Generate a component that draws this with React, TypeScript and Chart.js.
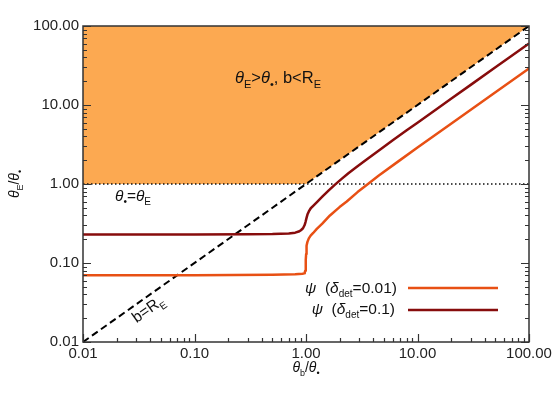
import React, { useEffect, useRef } from "react";
import { Chart, registerables } from "chart.js";

Chart.register(...registerables);

// ---- data ----
const xTickValues = [0.01, 0.1, 1, 10, 100];
const xTickLabels = ["0.01", "0.10", "1.00", "10.00", "100.00"];
const yTickValues = [0.01, 0.1, 1, 10, 100];
const yTickLabels = ["0.01", "0.10", "1.00", "10.00", "100.00"];

// region theta_E > theta_*, b < R_E (filled up to top)
const regionX = [0.01, 1, 100];
const regionY = [1, 1, 100];

// b = R_E line
const diagX = [0.01, 100];
const diagY = [0.01, 100];

// theta_* = theta_E line
const unityX = [0.01, 100];
const unityY = [1, 1];

// psi (delta_det = 0.01)
const psi001X = [0.01, 0.1, 0.5, 0.8, 0.93, 0.96, 0.975, 0.985, 0.992, 0.998, 1.003, 1.008, 1.015, 1.03, 1.06, 1.1, 1.16, 1.25, 1.4, 1.64, 2.0, 2.32, 2.9, 3.5, 4.5, 6.68, 10, 20, 50, 100];
const psi001Y = [0.07, 0.07, 0.071, 0.072, 0.073, 0.074, 0.076, 0.08, 0.09, 0.11, 0.13, 0.15, 0.165, 0.185, 0.205, 0.222, 0.24, 0.27, 0.315, 0.4, 0.51, 0.6, 0.79, 0.97, 1.28, 1.92, 2.89, 5.78, 14.49, 29];

// psi (delta_det = 0.1)
const psi01X = [0.01, 0.1, 0.3, 0.5, 0.7, 0.8, 0.86, 0.9, 0.94, 0.97, 0.99, 1.01, 1.03, 1.06, 1.1, 1.16, 1.26, 1.4, 1.6, 1.83, 2.1, 2.4, 2.84, 3.4, 4.6, 6, 8, 10, 15, 20, 30, 50, 70, 100];
const psi01Y = [0.23, 0.23, 0.231, 0.233, 0.237, 0.242, 0.25, 0.26, 0.275, 0.3, 0.33, 0.37, 0.41, 0.45, 0.49, 0.53, 0.595, 0.69, 0.83, 0.99, 1.17, 1.37, 1.64, 1.98, 2.72, 3.58, 4.8, 5.97, 8.97, 11.97, 17.98, 29.98, 41.98, 60];

const FILL = "rgb(252,169,81)";
const C001 = "rgb(232,80,20)";
const C01 = "rgb(135,12,12)";
const INK = "#222";
const FAMILY = "'Liberation Sans', 'DejaVu Sans', sans-serif";

const pts = (xs: number[], ys: number[]) => xs.map((x, i) => ({ x, y: ys[i] }));

type Part = { t: string; sub?: boolean; it?: boolean };

function drawRich(ctx: CanvasRenderingContext2D, parts: Part[], x: number, y: number, size: number, align: "left" | "center" | "right") {
  const fontOf = (p: Part) => {
    const s = p.sub ? Math.round(size * 0.66) : size;
    return `${p.it ? "italic " : ""}${s}px ${FAMILY}`;
  };
  const widths = parts.map((p) => {
    ctx.font = fontOf(p);
    return ctx.measureText(p.t).width;
  });
  const total = widths.reduce((a, b) => a + b, 0);
  let cx = align === "left" ? x : align === "center" ? x - total / 2 : x - total;
  ctx.textBaseline = "alphabetic";
  ctx.textAlign = "left";
  parts.forEach((p, i) => {
    ctx.font = fontOf(p);
    ctx.fillText(p.t, cx, y + (p.sub ? size * 0.28 : 0));
    cx += widths[i];
  });
}

const decorPlugin = {
  id: "decor",
  afterDatasetsDraw(chart: any) {
    const ctx: CanvasRenderingContext2D = chart.ctx;
    const { left, right, top, bottom } = chart.chartArea;
    const xs = chart.scales.x;
    const ys = chart.scales.y;
    ctx.save();
    // frame
    ctx.strokeStyle = "#333";
    ctx.lineWidth = 1.5;
    ctx.strokeRect(left, top, right - left, bottom - top);
    // ticks
    ctx.lineWidth = 1.2;
    ctx.beginPath();
    for (let e = -2; e <= 2; e++) {
      for (let k = 1; k <= 9; k++) {
        const v = k * Math.pow(10, e);
        if (v > 100.0001) continue;
        const len = k === 1 ? 8 : 4;
        const px = Math.round(xs.getPixelForValue(v)) + 0.5;
        ctx.moveTo(px, bottom);
        ctx.lineTo(px, bottom - len);
        const py = Math.round(ys.getPixelForValue(v)) + 0.5;
        ctx.moveTo(left, py);
        ctx.lineTo(left + len, py);
        ctx.moveTo(right, py);
        ctx.lineTo(right - len, py);
      }
    }
    ctx.stroke();

    ctx.fillStyle = "#111";
    // region label
    drawRich(ctx, [
      { t: "θ", it: true }, { t: "E", sub: true }, { t: ">" }, { t: "θ", it: true }, { t: "•", sub: true }, { t: ", b<R" }, { t: "E", sub: true },
    ], 278, 83, 16.5, "center");
    // theta_* = theta_E
    drawRich(ctx, [
      { t: "θ", it: true }, { t: "•", sub: true }, { t: "=" }, { t: "θ", it: true }, { t: "E", sub: true },
    ], 115, 201, 15.5, "left");
    // b = R_E rotated along the diagonal
    const ang = Math.atan2(ys.getPixelForValue(0.01) - ys.getPixelForValue(100), xs.getPixelForValue(100) - xs.getPixelForValue(0.01));
    ctx.save();
    ctx.translate(151, 313);
    ctx.rotate(-ang);
    drawRich(ctx, [{ t: "b=R" }, { t: "E", sub: true }], 0, 0, 15.5, "center");
    ctx.restore();

    // legend
    drawRich(ctx, [
      { t: "ψ", it: true }, { t: "  (" }, { t: "δ", it: true }, { t: "det", sub: true }, { t: "=0.01)" },
    ], 397, 293, 15.5, "right");
    drawRich(ctx, [
      { t: "ψ", it: true }, { t: "  (" }, { t: "δ", it: true }, { t: "det", sub: true }, { t: "=0.1)" },
    ], 395, 314, 15.5, "right");
    ctx.lineWidth = 2.5;
    ctx.strokeStyle = C001;
    ctx.beginPath();
    ctx.moveTo(408, 288);
    ctx.lineTo(498, 288);
    ctx.stroke();
    ctx.strokeStyle = C01;
    ctx.beginPath();
    ctx.moveTo(408, 310);
    ctx.lineTo(498, 310);
    ctx.stroke();

    // axis titles
    ctx.fillStyle = "#111";
    drawRich(ctx, [{ t: "θ", it: true }, { t: "b", sub: true }, { t: "/" }, { t: "θ", it: true }, { t: "•", sub: true }], (left + right) / 2, 372, 14, "center");
    ctx.save();
    ctx.translate(19, (top + bottom) / 2);
    ctx.rotate(-Math.PI / 2);
    drawRich(ctx, [{ t: "θ", it: true }, { t: "E", sub: true }, { t: "/" }, { t: "θ", it: true }, { t: "•", sub: true }], 0, 0, 14, "center");
    ctx.restore();
    ctx.restore();
  },
};

export default function App() {
  const ref = useRef<HTMLCanvasElement | null>(null);
  useEffect(() => {
    if (!ref.current) return;
    const chart = new Chart(ref.current, {
      type: "line",
      data: {
        datasets: [
          {
            data: pts(psi01X, psi01Y),
            borderColor: C01,
            borderWidth: 2.5,
            pointRadius: 0,
            tension: 0,
            borderJoinStyle: "round",
            fill: false,
            order: 1,
          },
          {
            data: pts(psi001X, psi001Y),
            borderColor: C001,
            borderWidth: 2.5,
            pointRadius: 0,
            tension: 0,
            borderJoinStyle: "round",
            fill: false,
            order: 2,
          },
          {
            data: pts(diagX, diagY),
            borderColor: "#000",
            borderWidth: 2,
            borderDash: [7, 4],
            pointRadius: 0,
            fill: false,
            order: 3,
          },
          {
            data: pts(unityX, unityY),
            borderColor: "#111",
            borderWidth: 1.5,
            borderDash: [1.5, 2.5],
            pointRadius: 0,
            fill: false,
            order: 4,
          },
          {
            data: pts(regionX, regionY),
            borderWidth: 0,
            borderColor: "rgba(0,0,0,0)",
            backgroundColor: FILL,
            pointRadius: 0,
            fill: "end",
            order: 5,
          },
        ] as any,
      },
      options: {
        animation: false,
        responsive: false,
        devicePixelRatio: 1,
        layout: { padding: { top: 26, right: 25, left: 0, bottom: 0 } },
        plugins: { legend: { display: false }, tooltip: { enabled: false } },
        scales: {
          x: {
            type: "logarithmic",
            min: 0.01,
            max: 100,
            grid: { display: false, drawTicks: false },
            border: { display: false },
            afterBuildTicks: (axis: any) => {
              axis.ticks = xTickValues.map((v) => ({ value: v, major: true }));
            },
            afterFit: (s: any) => {
              s.height = 54;
              s.paddingLeft = 0;
              s.paddingRight = 0;
            },
            ticks: {
              autoSkip: false,
              maxRotation: 0,
              padding: 3,
              color: INK,
              font: { family: FAMILY, size: 15 },
              callback: (_v: any, i: number) => xTickLabels[i],
            },
          },
          y: {
            type: "logarithmic",
            min: 0.01,
            max: 100,
            grid: { display: false, drawTicks: false },
            border: { display: false },
            afterBuildTicks: (axis: any) => {
              axis.ticks = yTickValues.map((v) => ({ value: v, major: true }));
            },
            afterFit: (s: any) => {
              s.width = 83;
              s.paddingTop = 0;
              s.paddingBottom = 0;
            },
            ticks: {
              autoSkip: false,
              padding: 4,
              color: INK,
              font: { family: FAMILY, size: 15 },
              callback: (_v: any, i: number) => yTickLabels[i],
            },
          },
        },
      } as any,
      plugins: [decorPlugin],
    });
    return () => chart.destroy();
  }, []);
  return (
    <div style={{ position: "absolute", left: 0, top: 0, width: 554, height: 396, background: "#fff" }}>
      <canvas ref={ref} width={554} height={396} style={{ display: "block", width: 554, height: 396 }} />
    </div>
  );
}
